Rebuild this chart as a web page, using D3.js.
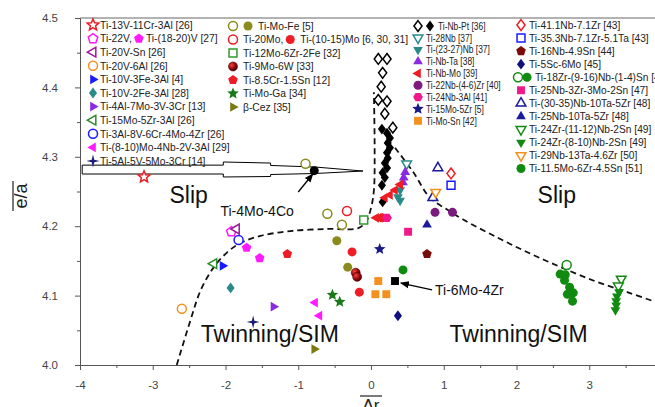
<!DOCTYPE html>
<html><head><meta charset="utf-8">
<script src="https://cdn.jsdelivr.net/npm/d3@7"></script>
<style>
html,body{margin:0;padding:0;background:#fff;}
svg{display:block;font-family:"Liberation Sans",Arial,sans-serif;}
</style></head><body>
<svg id="chart" width="655" height="407"></svg>
<script>
// ---------- data (Δr, e/a) ----------
const xTicks = [-4,-3,-2,-1,0,1,2,3,4];
const yTicks = [4.0,4.1,4.2,4.3,4.4,4.5];

const ti13V = [[-3.12,4.271]];
const ti22V = [[-1.92,4.192]];
const ti1820V = [[-1.71,4.169],[-1.53,4.154]];
const ti20VSn = [[-1.85,4.196]];
const ti20V6Al = [[-2.60,4.081]];
const ti10V3Fe = [[-2.04,4.143]];
const ti10V2Fe = [[-1.93,4.111]];
const ti4Al7Mo = [[-1.34,4.084]];
const ti15Mo5Zr3Al = [[-2.16,4.146]];
const ti3Al8V = [[-1.82,4.180]];
const ti810Mo = [[-0.77,4.090],[-0.71,4.071]];
const ti5Al5V = [[-1.62,4.062]];
const tiMoFeOpen = [[-0.90,4.290],[-0.60,4.218],[-0.40,4.202]];
const tiMoFeFilled = [[-0.47,4.179],[-0.32,4.141]];
const ti20Mo = [[-0.33,4.222]];
const ti1015Mo = [[-0.26,4.163],[-0.16,4.105],[0.15,4.212]];
const ti12Mo6Zr = [[-0.10,4.209]];
const ti9Mo6W = [[-0.21,4.133],[-0.19,4.127]];
const ti85Cr = [[-1.15,4.160]];
const tiMoGa = [[-0.53,4.101],[-0.43,4.091]];
const betaCez = [[-0.78,4.023]];
const tiNbPtOpen = [[0.10,4.441],[0.22,4.441],[0.16,4.421],[0.14,4.401],[0.10,4.382],[0.22,4.380],[0.19,4.362],[0.30,4.342]];
const tiNbPtFilled = [[0.15,4.340],[0.22,4.334],[0.26,4.327],[0.23,4.320],[0.26,4.313],[0.22,4.306],[0.23,4.298],[0.19,4.291],[0.22,4.284],[0.16,4.277],[0.19,4.270],[0.15,4.259],[0.16,4.235]];
const ti28Nb = [[0.49,4.290]];
const ti2327Nb = [[0.40,4.252],[0.37,4.242],[0.40,4.237]];
const tiNbTa = [[0.47,4.278],[0.45,4.270],[0.44,4.263]];
const tiNbMo = [[0.40,4.260],[0.33,4.252],[0.26,4.245],[0.19,4.241],[0.07,4.212]];
const ti22Nb = [[0.88,4.220],[1.12,4.220]];
const ti24Nb3Al = [[0.22,4.212]];
const ti15Mo5Zr = [[0.12,4.167]];
const tiMoSn = [[0.10,4.121],[0.06,4.102],[0.21,4.102]];
const ti411Nb = [[1.10,4.276]];
const ti353Nb = [[1.10,4.259]];
const ti16Nb = [[0.77,4.160]];
const ti5Sc = [[0.37,4.071]];
const ti18ZrOpen = [[2.69,4.144]];
const ti18ZrFilled = [[2.60,4.131],[2.67,4.130],[2.66,4.122],[2.73,4.112],[2.75,4.104],[2.78,4.104],[2.70,4.102],[2.77,4.092]];
const ti25Nb3Zr = [[0.51,4.192]];
const ti3035Nb = [[0.92,4.284],[0.85,4.241]];
const ti25Nb10Ta = [[0.77,4.202]];
const ti24Zr1112 = [[3.44,4.124],[3.40,4.114]];
const ti24Zr810 = [[3.41,4.105],[3.38,4.099],[3.37,4.092],[3.37,4.086],[3.36,4.079]];
const ti29Nb = [[0.89,4.249]];
const ti115Mo = [[0.44,4.137]];
const ti4Mo4Co = [[-0.78,4.280]];
const ti6Mo4Zr = [[0.33,4.121]];

// boundaries
const boundaryLeft = [[-2.67,4.000],[-2.48,4.065],[-2.34,4.108],[-2.16,4.141],[-1.97,4.163],[-1.79,4.176],[-1.52,4.186],[-1.11,4.193],[-0.60,4.196],[-0.18,4.197],[-0.07,4.206],[0.00,4.226],[0.04,4.252],[0.05,4.310],[0.04,4.393]];
const boundaryRight = [[0.33,4.313],[0.58,4.278],[0.81,4.241],[1.03,4.225],[1.26,4.210],[1.73,4.184],[2.18,4.161],[2.63,4.140],[3.10,4.120],[3.55,4.104],[3.99,4.088]];
// big hollow arrow outline
const bigArrow = [[-3.97,4.288],[-2.03,4.288],[-2.03,4.2925],[-1.38,4.291],[-1.38,4.2875],[-0.77,4.2853],[-0.11,4.2795],[-0.77,4.2759],[-1.38,4.2745],[-1.38,4.2716],[-2.03,4.2709],[-2.03,4.2752],[-3.97,4.2752]];

// ---------- styles (series table built from arrays) ----------
const C = {red:'#ee1c24', mag:'#ff1aff', purp:'#9b1b9b', orange:'#f39020', blue:'#1a1aff', teal:'#2a8a8a',
  violet:'#8a2be2', green:'#2e8b2e', navy:'#1f1f7a', olive:'#8a8a1e', dred:'#7b0b0b', pink:'#f0198c', dgreen:'#108a10', black:'#000'};
const seriesTable = {
  ti13V:{data:ti13V,shape:'star5',color:C.red,open:true},
  ti22V:{data:ti22V,shape:'pentagon',color:C.mag,open:true},
  ti1820V:{data:ti1820V,shape:'pentagon',color:C.mag},
  ti20VSn:{data:ti20VSn,shape:'triLeft',color:C.purp,open:true},
  ti20V6Al:{data:ti20V6Al,shape:'circle',color:C.orange,open:true},
  ti10V3Fe:{data:ti10V3Fe,shape:'triRight',color:C.blue},
  ti10V2Fe:{data:ti10V2Fe,shape:'diamond',color:C.teal},
  ti4Al7Mo:{data:ti4Al7Mo,shape:'triRight',color:C.violet},
  ti15Mo5Zr3Al:{data:ti15Mo5Zr3Al,shape:'triLeft',color:C.green,open:true},
  ti3Al8V:{data:ti3Al8V,shape:'circle',color:C.blue,open:true},
  ti810Mo:{data:ti810Mo,shape:'triLeft',color:C.mag},
  ti5Al5V:{data:ti5Al5V,shape:'star4',color:C.navy},
  tiMoFeO:{data:tiMoFeOpen,shape:'circle',color:C.olive,open:true},
  tiMoFeF:{data:tiMoFeFilled,shape:'circle',color:C.olive},
  ti20Mo:{data:ti20Mo,shape:'circle',color:C.red,open:true},
  ti1015Mo:{data:ti1015Mo,shape:'circle',color:C.red},
  ti12Mo6Zr:{data:ti12Mo6Zr,shape:'square',color:'#2e9a2e',open:true},
  ti9Mo6W:{data:ti9Mo6W,shape:'circle',color:'url(#sphere)'},
  ti85Cr:{data:ti85Cr,shape:'pentagon',color:C.red},
  tiMoGa:{data:tiMoGa,shape:'star5',color:'#1a7a1a'},
  betaCez:{data:betaCez,shape:'triRight',color:'#7a7a10'},
  tiNbPtO:{data:tiNbPtOpen,shape:'diamond',color:C.black,open:true},
  tiNbPtF:{data:tiNbPtFilled,shape:'diamond',color:C.black},
  ti28Nb:{data:ti28Nb,shape:'triDown',color:C.teal,open:true},
  ti2327Nb:{data:ti2327Nb,shape:'triDown',color:C.teal},
  tiNbTa:{data:tiNbTa,shape:'triUp',color:C.violet},
  tiNbMo:{data:tiNbMo,shape:'triLeft',color:C.red},
  ti22Nb:{data:ti22Nb,shape:'circle',color:'#7d1a7d'},
  ti24Nb3Al:{data:ti24Nb3Al,shape:'hexagon',color:C.pink},
  ti15Mo5Zr:{data:ti15Mo5Zr,shape:'star5',color:'#1a1a8a'},
  tiMoSn:{data:tiMoSn,shape:'square',color:C.orange},
  ti411Nb:{data:ti411Nb,shape:'diamond',color:C.red,open:true},
  ti353Nb:{data:ti353Nb,shape:'square',color:C.blue,open:true},
  ti16Nb:{data:ti16Nb,shape:'pentagon',color:C.dred},
  ti5Sc:{data:ti5Sc,shape:'diamond',color:'#10107a'},
  ti18ZrO:{data:ti18ZrOpen,shape:'circle',color:C.dgreen,open:true},
  ti18ZrF:{data:ti18ZrFilled,shape:'circle',color:C.dgreen},
  ti25Nb3Zr:{data:ti25Nb3Zr,shape:'square',color:C.pink},
  ti3035Nb:{data:ti3035Nb,shape:'triUp',color:'#1a1a9a',open:true},
  ti25Nb10Ta:{data:ti25Nb10Ta,shape:'triUp',color:'#1a1aa0'},
  ti24Zr1112:{data:ti24Zr1112,shape:'triDown',color:C.dgreen,open:true},
  ti24Zr810:{data:ti24Zr810,shape:'triDown',color:C.dgreen},
  ti29Nb:{data:ti29Nb,shape:'triDown',color:C.orange,open:true},
  ti115Mo:{data:ti115Mo,shape:'circle',color:C.dgreen},
  ti4Mo4Co:{data:ti4Mo4Co,shape:'circle',color:C.black},
  ti6Mo4Zr:{data:ti6Mo4Zr,shape:'square',color:C.black}
};
const drawOrder = ['ti13V','ti22V','ti1820V','ti20VSn','ti20V6Al','ti10V3Fe','ti10V2Fe','ti4Al7Mo','ti15Mo5Zr3Al','ti3Al8V','ti810Mo','ti5Al5V','tiMoFeO','tiMoFeF','ti20Mo','ti1015Mo','ti12Mo6Zr','ti9Mo6W','ti85Cr','tiMoGa','betaCez','tiNbPtO','tiNbPtF','ti28Nb','ti2327Nb','tiNbTa','tiNbMo','ti22Nb','ti24Nb3Al','ti15Mo5Zr','tiMoSn','ti411Nb','ti353Nb','ti16Nb','ti5Sc','ti18ZrO','ti18ZrF','ti25Nb3Zr','ti3035Nb','ti25Nb10Ta','ti24Zr1112','ti24Zr810','ti29Nb','ti115Mo','ti4Mo4Co','ti6Mo4Zr'];

// legend labels
const legendCol1 = [
  ['@ti13V','Ti-13V-11Cr-3Al [26]'],
  ['@ti22V','Ti-22V,','@ti1820V','Ti-(18-20)V [27]'],
  ['@ti20VSn','Ti-20V-Sn [26]'],
  ['@ti20V6Al','Ti-20V-6Al [26]'],
  ['@ti10V3Fe','Ti-10V-3Fe-3Al [4]'],
  ['@ti10V2Fe','Ti-10V-2Fe-3Al [28]'],
  ['@ti4Al7Mo','Ti-4Al-7Mo-3V-3Cr [13]'],
  ['@ti15Mo5Zr3Al','Ti-15Mo-5Zr-3Al [26]'],
  ['@ti3Al8V','Ti-3Al-8V-6Cr-4Mo-4Zr [26]'],
  ['@ti810Mo','Ti-(8-10)Mo-4Nb-2V-3Al [29]'],
  ['@ti5Al5V','Ti-5Al-5V-5Mo-3Cr [14]']
];
const legendCol2 = [
  ['@tiMoFeO','@tiMoFeF','Ti-Mo-Fe [5]'],
  ['@ti20Mo','Ti-20Mo,','@ti1015Mo','Ti-(10-15)Mo [6, 30, 31]'],
  ['@ti12Mo6Zr','Ti-12Mo-6Zr-2Fe [32]'],
  ['@ti9Mo6W','Ti-9Mo-6W [33]'],
  ['@ti85Cr','Ti-8.5Cr-1.5Sn [12]'],
  ['@tiMoGa','Ti-Mo-Ga [34]'],
  ['@betaCez','β-Cez [35]']
];
const legendCol3 = [
  ['@tiNbPtO','@tiNbPtF','Ti-Nb-Pt [36]'],
  ['@ti28Nb','Ti-28Nb [37]'],
  ['@ti2327Nb','Ti-(23-27)Nb [37]'],
  ['@tiNbTa','Ti-Nb-Ta [38]'],
  ['@tiNbMo','Ti-Nb-Mo [39]'],
  ['@ti22Nb','Ti-22Nb-(4-6)Zr [40]'],
  ['@ti24Nb3Al','Ti-24Nb-3Al [41]'],
  ['@ti15Mo5Zr','Ti-15Mo-5Zr [5]'],
  ['@tiMoSn','Ti-Mo-Sn [42]']
];
const legendCol4 = [
  ['@ti411Nb','Ti-41.1Nb-7.1Zr [43]'],
  ['@ti353Nb','Ti-35.3Nb-7.1Zr-5.1Ta [43]'],
  ['@ti16Nb','Ti-16Nb-4.9Sn [44]'],
  ['@ti5Sc','Ti-5Sc-6Mo [45]'],
  ['@ti18ZrO','@ti18ZrF','Ti-18Zr-(9-16)Nb-(1-4)Sn [46]'],
  ['@ti25Nb3Zr','Ti-25Nb-3Zr-3Mo-2Sn [47]'],
  ['@ti3035Nb','Ti-(30-35)Nb-10Ta-5Zr [48]'],
  ['@ti25Nb10Ta','Ti-25Nb-10Ta-5Zr [48]'],
  ['@ti24Zr1112','Ti-24Zr-(11-12)Nb-2Sn [49]'],
  ['@ti24Zr810','Ti-24Zr-(8-10)Nb-2Sn [49]'],
  ['@ti29Nb','Ti-29Nb-13Ta-4.6Zr [50]'],
  ['@ti115Mo','Ti-11.5Mo-6Zr-4.5Sn [51]']
];

// ---------- drawing ----------
const svg = d3.select('#chart');
const x = d3.scaleLinear().domain([-4,4]).range([80,662]);
const y = d3.scaleLinear().domain([4.0,4.5]).range([365,18]);

const defs = svg.append('defs');
const rg = defs.append('radialGradient').attr('id','sphere').attr('cx','35%').attr('cy','35%').attr('r','65%');
rg.append('stop').attr('offset','0%').attr('stop-color','#ff4040');
rg.append('stop').attr('offset','55%').attr('stop-color','#a01010');
rg.append('stop').attr('offset','100%').attr('stop-color','#500000');
defs.append('marker').attr('id','ah').attr('viewBox','0 0 10 10').attr('refX',9).attr('refY',5)
  .attr('markerWidth',9).attr('markerHeight',9).attr('markerUnits','userSpaceOnUse').attr('orient','auto')
  .append('path').attr('d','M0,1L10,5L0,9Z').attr('fill','#000');

function regPoly(n,R,startDeg,inner){
  const m = inner ? n*2 : n, pts=[];
  for(let i=0;i<m;i++){const a=(startDeg+i*360/m)*Math.PI/180;const rr=(inner&&i%2)?R*inner:R;pts.push([rr*Math.cos(a),rr*Math.sin(a)]);}
  return 'M'+pts.map(p=>p[0].toFixed(2)+','+p[1].toFixed(2)).join('L')+'Z';
}
function shapePath(t,r){
  switch(t){
    case 'circle': return `M${r},0A${r},${r} 0 1,1 ${-r},0A${r},${r} 0 1,1 ${r},0Z`;
    case 'square': {const s=r*0.88;return `M${-s},${-s}H${s}V${s}H${-s}Z`;}
    case 'diamond': return `M0,${-r*1.2}L${r*0.9},0L0,${r*1.2}L${-r*0.9},0Z`;
    case 'triUp': return regPoly(3,r*1.25,-90);
    case 'triDown': return regPoly(3,r*1.25,90);
    case 'triLeft': return regPoly(3,r*1.25,180);
    case 'triRight': return regPoly(3,r*1.25,0);
    case 'pentagon': return regPoly(5,r*1.12,-90);
    case 'hexagon': return regPoly(6,r*1.08,0);
    case 'star5': return regPoly(5,r*1.35,-90,0.45);
    case 'star4': return regPoly(4,r*1.45,-90,0.28);
  }
}
function styleMark(sel,s){
  if(s.open){sel.attr('fill','#fff').attr('stroke',s.color).attr('stroke-width',1.5);}
  else {sel.attr('fill',s.color).attr('stroke',s.color==='url(#sphere)'?'#500000':'none').attr('stroke-width',0.6);}
}
const R = 4.5;

// axes
const axG = svg.append('g').attr('class','axes');
const xAxis = d3.axisBottom(x).tickValues(xTicks).tickFormat(d=>String(d)).tickSize(5).tickSizeOuter(0).tickPadding(11);
const xMinor = d3.axisBottom(x).tickValues(d3.range(-3.5,4,1)).tickFormat('').tickSize(3).tickSizeOuter(0);
const yAxis = d3.axisLeft(y).tickValues(yTicks).tickFormat(d3.format('.1f')).tickSize(5).tickSizeOuter(0).tickPadding(17);
const yMinor = d3.axisLeft(y).tickValues([4.05,4.15,4.25,4.35,4.45]).tickFormat('').tickSize(3).tickSizeOuter(0);
[[xAxis,'translate(0,365)'],[xMinor,'translate(0,365)'],[yAxis,'translate(80,0)'],[yMinor,'translate(80,0)']].forEach(([a,t])=>{
  const g=axG.append('g').attr('transform',t).call(a);
  g.selectAll('path,line').attr('stroke','#555').attr('stroke-width',1);
  g.selectAll('text').attr('fill','#444').attr('font-size','11.5px').attr('font-family','"Liberation Sans",Arial,sans-serif');
});
axG.append('line').attr('x1',x(-4)).attr('x2',655).attr('y1',y(4.5)).attr('y2',y(4.5)).attr('stroke','#666').attr('stroke-width',1);

// axis titles
const yt = svg.append('g').attr('transform','translate(23,196) rotate(-90)');
yt.append('text').attr('text-anchor','middle').attr('y',4).attr('font-size','18px').attr('fill','#222').text('e/a');
yt.append('line').attr('x1',-15).attr('x2',15).attr('y1',-10).attr('y2',-10).attr('stroke','#222').attr('stroke-width',1.2);
svg.append('text').attr('x',x(0)).attr('y',411).attr('text-anchor','middle').attr('font-size','17px').attr('fill','#222').text('Δr');
svg.append('line').attr('x1',x(0)-11).attr('x2',x(0)+11).attr('y1',396).attr('y2',396).attr('stroke','#222').attr('stroke-width',1.2);

// big hollow arrow
svg.append('path').attr('d',d3.line().x(d=>x(d[0])).y(d=>y(d[1]))(bigArrow)+'Z')
  .attr('fill','#fff').attr('stroke','#000').attr('stroke-width',1);

// boundaries
const bl = d3.line().x(d=>x(d[0])).y(d=>y(d[1])).curve(d3.curveCatmullRom.alpha(0.5));
[boundaryLeft,boundaryRight].forEach(b=>svg.append('path').attr('d',bl(b)).attr('fill','none')
  .attr('stroke','#111').attr('stroke-width',1.8).attr('stroke-dasharray','6,4'));

// points
const ptsG = svg.append('g');
drawOrder.forEach(k=>{
  const s=seriesTable[k];
  ptsG.selectAll(null).data(s.data).enter().append('path')
    .attr('transform',d=>`translate(${x(d[0])},${y(d[1])})`)
    .attr('d',shapePath(s.shape,R)).call(styleMark,s);
});

// annotations
const ann = svg.append('g').attr('fill','#111');
ann.append('text').attr('x',x(-2.77)).attr('y',y(4.2334)).attr('font-size','23px').text('Slip');
ann.append('text').attr('x',x(2.29)).attr('y',y(4.2334)).attr('font-size','23px').text('Slip');
ann.append('text').attr('x',x(-2.34)).attr('y',y(4.0332)).attr('font-size','23px').text('Twinning/SIM');
ann.append('text').attr('x',x(1.08)).attr('y',y(4.0332)).attr('font-size','23px').text('Twinning/SIM');
ann.append('text').attr('x',x(-2.07)).attr('y',y(4.2147)).attr('font-size','14px').text('Ti-4Mo-4Co');
ann.append('text').attr('x',x(0.88)).attr('y',y(4.1005)).attr('font-size','14px').text('Ti-6Mo-4Zr');
svg.append('line').attr('x1',x(-1.0)).attr('y1',y(4.2493)).attr('x2',x(-0.80)).attr('y2',y(4.2752))
  .attr('stroke','#000').attr('stroke-width',1.3).attr('marker-end','url(#ah)');
svg.append('line').attr('x1',x(0.84)).attr('y1',y(4.1081)).attr('x2',x(0.41)).attr('y2',y(4.1181))
  .attr('stroke','#000').attr('stroke-width',1.3).attr('marker-end','url(#ah)');

// legend
const legG = svg.append('g');
function drawLegend(rows,mx,y0,dy,textOff,fs,sx,mStep){
  rows.forEach((row,i)=>{
    const cy=y0+dy*i; let prev=null;
    const twoMarks = row[0][0]==='@' && row[1][0]==='@';
    let cur = twoMarks ? mx-(mStep<12?3:0) : mx;
    row.forEach(tok=>{
      if(tok[0]==='@'){
        const s=seriesTable[tok.slice(1)];
        if(prev==='m') cur+=mStep; else if(prev==='t') cur+=7;
        legG.append('path').attr('transform',`translate(${cur},${cy})`).attr('d',shapePath(s.shape,R)).call(styleMark,s);
        prev='m';
      } else {
        const tx = prev==='m' ? cur+textOff : cur;
        const t=legG.append('text').attr('transform',`translate(${tx},${cy+fs*0.36}) scale(${sx},1)`)
          .attr('font-size',fs+'px').attr('fill','#222').text(tok);
        cur = tx + t.node().getComputedTextLength()*sx;
        prev='t';
      }
    });
  });
}
drawLegend(legendCol1,93,25,13.6,7,10.3,1,12);
drawLegend(legendCol2,233,26,13.5,10,10.3,1,15);
drawLegend(legendCol3,418,26,11.85,8,10.3,0.82,12);
drawLegend(legendCol4,521,25,13.05,8,10.2,1,9);
</script></body></html>
